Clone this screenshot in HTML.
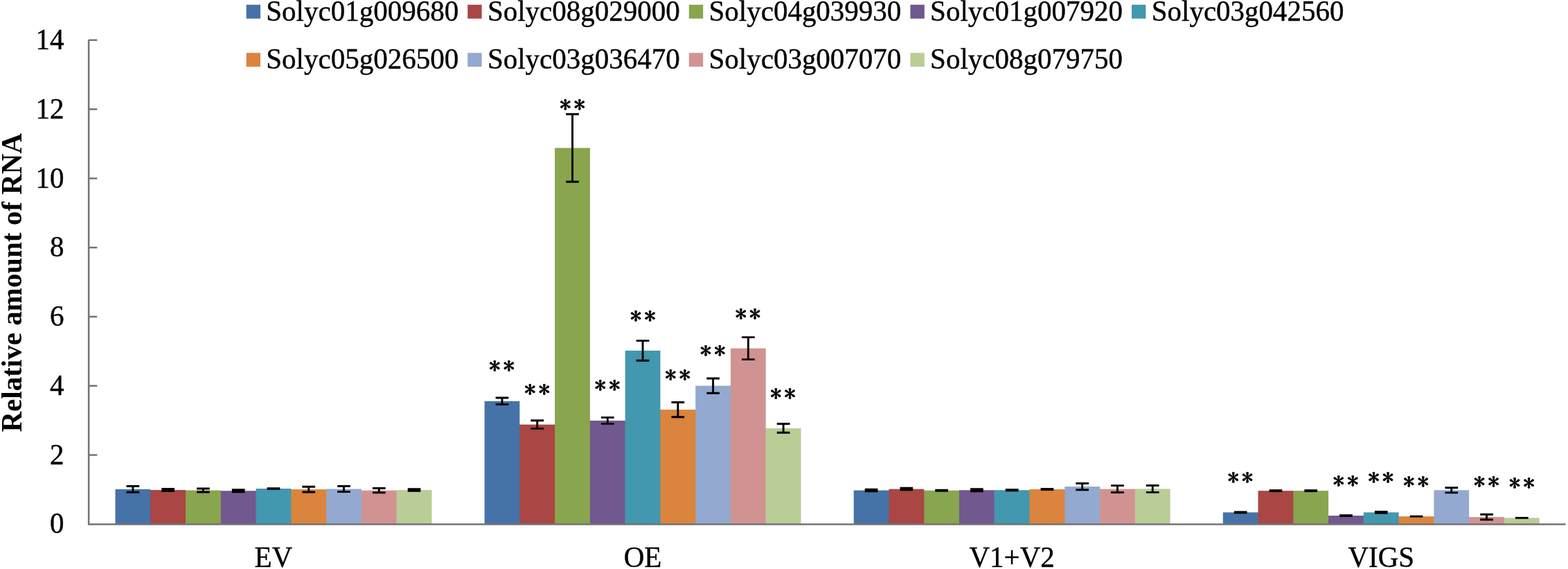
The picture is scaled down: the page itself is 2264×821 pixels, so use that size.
<!DOCTYPE html><html><head><meta charset="utf-8"><title>Relative amount of RNA</title>
<style>html,body{margin:0;padding:0;background:#fff;}svg{display:block;}text{font-family:"Liberation Serif","Times New Roman",serif;fill:#000;}.r{stroke:#000;stroke-width:0.4px;}</style></head><body>
<svg width="2264" height="821" viewBox="0 0 2264 821">
<rect width="2264" height="821" fill="#fff"/>
<rect x="166.48" y="705.90" width="50.77" height="50.40" fill="#4572A7"/>
<rect x="216.75" y="707.00" width="1.3" height="49.30" fill="#4572A7"/>
<rect x="217.25" y="707.00" width="50.77" height="49.30" fill="#AA4643"/>
<rect x="267.52" y="707.50" width="1.3" height="48.80" fill="#AA4643"/>
<rect x="268.02" y="707.50" width="50.77" height="48.80" fill="#89A54E"/>
<rect x="318.29" y="708.20" width="1.3" height="48.10" fill="#89A54E"/>
<rect x="318.79" y="708.20" width="50.77" height="48.10" fill="#71588F"/>
<rect x="369.06" y="708.20" width="1.3" height="48.10" fill="#71588F"/>
<rect x="369.56" y="705.00" width="50.77" height="51.30" fill="#4198AF"/>
<rect x="419.83" y="706.10" width="1.3" height="50.20" fill="#4198AF"/>
<rect x="420.33" y="706.10" width="50.77" height="50.20" fill="#DB843D"/>
<rect x="470.60" y="706.10" width="1.3" height="50.20" fill="#DB843D"/>
<rect x="471.10" y="705.50" width="50.77" height="50.80" fill="#93A9CF"/>
<rect x="521.37" y="707.65" width="1.3" height="48.65" fill="#93A9CF"/>
<rect x="521.87" y="707.65" width="50.77" height="48.65" fill="#D19392"/>
<rect x="572.14" y="707.65" width="1.3" height="48.65" fill="#D19392"/>
<rect x="572.64" y="707.05" width="50.77" height="49.25" fill="#B9CD96"/>
<rect x="699.58" y="578.80" width="50.77" height="177.50" fill="#4572A7"/>
<rect x="749.85" y="612.60" width="1.3" height="143.70" fill="#4572A7"/>
<rect x="750.35" y="612.60" width="50.77" height="143.70" fill="#AA4643"/>
<rect x="800.62" y="612.60" width="1.3" height="143.70" fill="#AA4643"/>
<rect x="801.12" y="213.50" width="50.77" height="542.80" fill="#89A54E"/>
<rect x="851.39" y="606.90" width="1.3" height="149.40" fill="#89A54E"/>
<rect x="851.89" y="606.90" width="50.77" height="149.40" fill="#71588F"/>
<rect x="902.16" y="606.90" width="1.3" height="149.40" fill="#71588F"/>
<rect x="902.66" y="505.90" width="50.77" height="250.40" fill="#4198AF"/>
<rect x="952.93" y="591.10" width="1.3" height="165.20" fill="#4198AF"/>
<rect x="953.43" y="591.10" width="50.77" height="165.20" fill="#DB843D"/>
<rect x="1003.70" y="591.10" width="1.3" height="165.20" fill="#DB843D"/>
<rect x="1004.20" y="556.60" width="50.77" height="199.70" fill="#93A9CF"/>
<rect x="1054.47" y="556.60" width="1.3" height="199.70" fill="#93A9CF"/>
<rect x="1054.97" y="502.60" width="50.77" height="253.70" fill="#D19392"/>
<rect x="1105.24" y="617.90" width="1.3" height="138.40" fill="#D19392"/>
<rect x="1105.74" y="617.90" width="50.77" height="138.40" fill="#B9CD96"/>
<rect x="1232.68" y="707.50" width="50.77" height="48.80" fill="#4572A7"/>
<rect x="1282.95" y="707.50" width="1.3" height="48.80" fill="#4572A7"/>
<rect x="1283.45" y="705.60" width="50.77" height="50.70" fill="#AA4643"/>
<rect x="1333.72" y="707.70" width="1.3" height="48.60" fill="#AA4643"/>
<rect x="1334.22" y="707.70" width="50.77" height="48.60" fill="#89A54E"/>
<rect x="1384.49" y="707.70" width="1.3" height="48.60" fill="#89A54E"/>
<rect x="1384.99" y="707.20" width="50.77" height="49.10" fill="#71588F"/>
<rect x="1435.26" y="707.20" width="1.3" height="49.10" fill="#71588F"/>
<rect x="1435.76" y="707.20" width="50.77" height="49.10" fill="#4198AF"/>
<rect x="1486.03" y="707.20" width="1.3" height="49.10" fill="#4198AF"/>
<rect x="1486.53" y="706.00" width="50.77" height="50.30" fill="#DB843D"/>
<rect x="1536.80" y="706.00" width="1.3" height="50.30" fill="#DB843D"/>
<rect x="1537.30" y="702.10" width="50.77" height="54.20" fill="#93A9CF"/>
<rect x="1587.57" y="705.60" width="1.3" height="50.70" fill="#93A9CF"/>
<rect x="1588.07" y="705.60" width="50.77" height="50.70" fill="#D19392"/>
<rect x="1638.34" y="705.60" width="1.3" height="50.70" fill="#D19392"/>
<rect x="1638.84" y="705.40" width="50.77" height="50.90" fill="#B9CD96"/>
<rect x="1765.78" y="739.30" width="50.77" height="17.00" fill="#4572A7"/>
<rect x="1816.05" y="739.30" width="1.3" height="17.00" fill="#4572A7"/>
<rect x="1816.55" y="708.10" width="50.77" height="48.20" fill="#AA4643"/>
<rect x="1866.82" y="708.10" width="1.3" height="48.20" fill="#AA4643"/>
<rect x="1867.32" y="708.10" width="50.77" height="48.20" fill="#89A54E"/>
<rect x="1917.59" y="744.00" width="1.3" height="12.30" fill="#89A54E"/>
<rect x="1918.09" y="744.00" width="50.77" height="12.30" fill="#71588F"/>
<rect x="1968.36" y="744.00" width="1.3" height="12.30" fill="#71588F"/>
<rect x="1968.86" y="739.30" width="50.77" height="17.00" fill="#4198AF"/>
<rect x="2019.13" y="745.10" width="1.3" height="11.20" fill="#4198AF"/>
<rect x="2019.63" y="745.10" width="50.77" height="11.20" fill="#DB843D"/>
<rect x="2069.90" y="745.10" width="1.3" height="11.20" fill="#DB843D"/>
<rect x="2070.40" y="707.30" width="50.77" height="49.00" fill="#93A9CF"/>
<rect x="2120.67" y="746.00" width="1.3" height="10.30" fill="#93A9CF"/>
<rect x="2121.17" y="746.00" width="50.77" height="10.30" fill="#D19392"/>
<rect x="2171.44" y="747.30" width="1.3" height="9.00" fill="#D19392"/>
<rect x="2171.94" y="747.30" width="50.77" height="9.00" fill="#B9CD96"/>
<path d="M191.87 701.50V710.30M182.52 701.50H201.22M182.52 710.30H201.22" stroke="#000" stroke-width="2.9" fill="none"/>
<path d="M242.64 705.50V708.50M233.29 705.50H251.99M233.29 708.50H251.99" stroke="#000" stroke-width="2.9" fill="none"/>
<path d="M293.41 705.00V710.00M284.06 705.00H302.76M284.06 710.00H302.76" stroke="#000" stroke-width="2.9" fill="none"/>
<path d="M344.18 706.70V709.70M334.83 706.70H353.53M334.83 709.70H353.53" stroke="#000" stroke-width="2.9" fill="none"/>
<rect x="385.60" y="703.25" width="18.70" height="3.50" fill="#000"/>
<path d="M445.72 702.25V709.95M436.37 702.25H455.07M436.37 709.95H455.07" stroke="#000" stroke-width="2.9" fill="none"/>
<path d="M496.49 701.45V709.55M487.13 701.45H505.84M487.13 709.55H505.84" stroke="#000" stroke-width="2.9" fill="none"/>
<path d="M547.26 704.55V710.75M537.91 704.55H556.61M537.91 710.75H556.61" stroke="#000" stroke-width="2.9" fill="none"/>
<path d="M598.03 705.75V708.35M588.68 705.75H607.38M588.68 708.35H607.38" stroke="#000" stroke-width="2.9" fill="none"/>
<path d="M724.97 574.05V583.55M715.62 574.05H734.32M715.62 583.55H734.32" stroke="#000" stroke-width="2.9" fill="none"/>
<path d="M775.74 606.80V618.40M766.38 606.80H785.09M766.38 618.40H785.09" stroke="#000" stroke-width="2.9" fill="none"/>
<path d="M826.51 164.80V262.20M817.16 164.80H835.86M817.16 262.20H835.86" stroke="#000" stroke-width="2.9" fill="none"/>
<path d="M877.28 602.40V611.40M867.93 602.40H886.63M867.93 611.40H886.63" stroke="#000" stroke-width="2.9" fill="none"/>
<path d="M928.05 491.60V520.20M918.70 491.60H937.40M918.70 520.20H937.40" stroke="#000" stroke-width="2.9" fill="none"/>
<path d="M978.82 580.50V601.70M969.47 580.50H988.17M969.47 601.70H988.17" stroke="#000" stroke-width="2.9" fill="none"/>
<path d="M1029.59 546.00V567.20M1020.24 546.00H1038.93M1020.24 567.20H1038.93" stroke="#000" stroke-width="2.9" fill="none"/>
<path d="M1080.36 486.60V518.60M1071.01 486.60H1089.70M1071.01 518.60H1089.70" stroke="#000" stroke-width="2.9" fill="none"/>
<path d="M1131.12 611.50V624.30M1121.78 611.50H1140.47M1121.78 624.30H1140.47" stroke="#000" stroke-width="2.9" fill="none"/>
<path d="M1258.07 706.20V708.80M1248.72 706.20H1267.41M1248.72 708.80H1267.41" stroke="#000" stroke-width="2.9" fill="none"/>
<path d="M1308.84 704.30V706.90M1299.49 704.30H1318.18M1299.49 706.90H1318.18" stroke="#000" stroke-width="2.9" fill="none"/>
<rect x="1350.26" y="705.75" width="18.70" height="3.90" fill="#000"/>
<path d="M1410.38 705.70V708.70M1401.03 705.70H1419.72M1401.03 708.70H1419.72" stroke="#000" stroke-width="2.9" fill="none"/>
<rect x="1451.80" y="705.15" width="18.70" height="4.10" fill="#000"/>
<rect x="1502.57" y="704.05" width="18.70" height="3.90" fill="#000"/>
<path d="M1562.68 697.50V706.70M1553.34 697.50H1572.03M1553.34 706.70H1572.03" stroke="#000" stroke-width="2.9" fill="none"/>
<path d="M1613.46 700.65V710.55M1604.11 700.65H1622.81M1604.11 710.55H1622.81" stroke="#000" stroke-width="2.9" fill="none"/>
<path d="M1664.23 700.45V710.35M1654.88 700.45H1673.58M1654.88 710.35H1673.58" stroke="#000" stroke-width="2.9" fill="none"/>
<rect x="1781.82" y="737.35" width="18.70" height="3.90" fill="#000"/>
<rect x="1832.59" y="706.15" width="18.70" height="3.90" fill="#000"/>
<rect x="1883.36" y="706.15" width="18.70" height="3.90" fill="#000"/>
<rect x="1934.13" y="742.15" width="18.70" height="3.70" fill="#000"/>
<rect x="1984.90" y="736.95" width="18.70" height="4.70" fill="#000"/>
<rect x="2035.67" y="743.65" width="18.70" height="2.90" fill="#000"/>
<path d="M2095.79 703.70V710.90M2086.44 703.70H2105.14M2086.44 710.90H2105.14" stroke="#000" stroke-width="2.9" fill="none"/>
<path d="M2146.56 742.20V749.80M2137.21 742.20H2155.91M2137.21 749.80H2155.91" stroke="#000" stroke-width="2.9" fill="none"/>
<rect x="2187.98" y="745.85" width="18.70" height="2.90" fill="#000"/>
<path d="M128.10 57.60V756.40H2260.5" stroke="#737373" stroke-width="2.5" fill="none"/>
<path d="M128.10 656.52H140.3" stroke="#737373" stroke-width="2.5" fill="none"/>
<path d="M128.10 556.74H140.3" stroke="#737373" stroke-width="2.5" fill="none"/>
<path d="M128.10 456.96H140.3" stroke="#737373" stroke-width="2.5" fill="none"/>
<path d="M128.10 357.18H140.3" stroke="#737373" stroke-width="2.5" fill="none"/>
<path d="M128.10 257.40H140.3" stroke="#737373" stroke-width="2.5" fill="none"/>
<path d="M128.10 157.62H140.3" stroke="#737373" stroke-width="2.5" fill="none"/>
<path d="M128.10 57.84H140.3" stroke="#737373" stroke-width="2.5" fill="none"/>
<text transform="translate(92.5 769.40) scale(1 1.015)" class="r" font-size="41" text-anchor="end">0</text>
<text transform="translate(92.5 669.62) scale(1 1.015)" class="r" font-size="41" text-anchor="end">2</text>
<text transform="translate(92.5 569.84) scale(1 1.015)" class="r" font-size="41" text-anchor="end">4</text>
<text transform="translate(92.5 470.06) scale(1 1.015)" class="r" font-size="41" text-anchor="end">6</text>
<text transform="translate(92.5 370.28) scale(1 1.015)" class="r" font-size="41" text-anchor="end">8</text>
<text transform="translate(92.5 270.50) scale(1 1.015)" class="r" font-size="41" text-anchor="end">10</text>
<text transform="translate(92.5 170.72) scale(1 1.015)" class="r" font-size="41" text-anchor="end">12</text>
<text transform="translate(92.5 70.94) scale(1 1.015)" class="r" font-size="41" text-anchor="end">14</text>
<text transform="translate(394.95 817.5) scale(1 1.015)" class="r" font-size="41" text-anchor="middle">EV</text>
<text transform="translate(928.05 817.5) scale(1 1.015)" class="r" font-size="41" text-anchor="middle">OE</text>
<text transform="translate(1461.15 817.5) scale(1 1.015)" class="r" font-size="41" text-anchor="middle">V1+V2</text>
<text transform="translate(1994.25 817.5) scale(1 1.015)" class="r" font-size="41" text-anchor="middle">VIGS</text>
<text transform="translate(31.2 407.8) rotate(-90) scale(1 1.05)" font-size="41" font-weight="bold" text-anchor="middle">Relative amount of RNA</text>
<rect x="355.60" y="6.8" width="20.4" height="20" fill="#4572A7"/>
<text transform="translate(384.30 30.0) scale(1 1.035)" class="r" font-size="41">Solyc01g009680</text>
<rect x="675.20" y="6.8" width="20.4" height="20" fill="#AA4643"/>
<text transform="translate(703.90 30.0) scale(1 1.035)" class="r" font-size="41">Solyc08g029000</text>
<rect x="994.80" y="6.8" width="20.4" height="20" fill="#89A54E"/>
<text transform="translate(1023.50 30.0) scale(1 1.035)" class="r" font-size="41">Solyc04g039930</text>
<rect x="1314.40" y="6.8" width="20.4" height="20" fill="#71588F"/>
<text transform="translate(1343.10 30.0) scale(1 1.035)" class="r" font-size="41">Solyc01g007920</text>
<rect x="1634.00" y="6.8" width="20.4" height="20" fill="#4198AF"/>
<text transform="translate(1662.70 30.0) scale(1 1.035)" class="r" font-size="41">Solyc03g042560</text>
<rect x="355.60" y="76.3" width="20.4" height="20" fill="#DB843D"/>
<text transform="translate(384.30 99.4) scale(1 1.035)" class="r" font-size="41">Solyc05g026500</text>
<rect x="675.20" y="76.3" width="20.4" height="20" fill="#93A9CF"/>
<text transform="translate(703.90 99.4) scale(1 1.035)" class="r" font-size="41">Solyc03g036470</text>
<rect x="994.80" y="76.3" width="20.4" height="20" fill="#D19392"/>
<text transform="translate(1023.50 99.4) scale(1 1.035)" class="r" font-size="41">Solyc03g007070</text>
<rect x="1314.40" y="76.3" width="20.4" height="20" fill="#B9CD96"/>
<text transform="translate(1343.10 99.4) scale(1 1.035)" class="r" font-size="41">Solyc08g079750</text>
<text transform="translate(724.60 538.60) scale(1.07 1.0)" font-size="31.0" font-weight="normal" style="font-family:IPAGothic, 'Liberation Serif', serif" text-anchor="middle" stroke="#000" stroke-width="0.7">*<tspan dx="3.6">*</tspan></text>
<text transform="translate(775.55 572.80) scale(1.07 1.0)" font-size="31.0" font-weight="normal" style="font-family:IPAGothic, 'Liberation Serif', serif" text-anchor="middle" stroke="#000" stroke-width="0.7">*<tspan dx="3.6">*</tspan></text>
<text transform="translate(826.55 161.90) scale(1.07 1.0)" font-size="31.0" font-weight="normal" style="font-family:IPAGothic, 'Liberation Serif', serif" text-anchor="middle" stroke="#000" stroke-width="0.7">*<tspan dx="3.6">*</tspan></text>
<text transform="translate(877.05 567.30) scale(1.07 1.0)" font-size="31.0" font-weight="normal" style="font-family:IPAGothic, 'Liberation Serif', serif" text-anchor="middle" stroke="#000" stroke-width="0.7">*<tspan dx="3.6">*</tspan></text>
<text transform="translate(928.25 467.40) scale(1.07 1.0)" font-size="31.0" font-weight="normal" style="font-family:IPAGothic, 'Liberation Serif', serif" text-anchor="middle" stroke="#000" stroke-width="0.7">*<tspan dx="3.6">*</tspan></text>
<text transform="translate(978.50 551.80) scale(1.07 1.0)" font-size="31.0" font-weight="normal" style="font-family:IPAGothic, 'Liberation Serif', serif" text-anchor="middle" stroke="#000" stroke-width="0.7">*<tspan dx="3.6">*</tspan></text>
<text transform="translate(1029.20 517.20) scale(1.07 1.0)" font-size="31.0" font-weight="normal" style="font-family:IPAGothic, 'Liberation Serif', serif" text-anchor="middle" stroke="#000" stroke-width="0.7">*<tspan dx="3.6">*</tspan></text>
<text transform="translate(1079.90 463.50) scale(1.07 1.0)" font-size="31.0" font-weight="normal" style="font-family:IPAGothic, 'Liberation Serif', serif" text-anchor="middle" stroke="#000" stroke-width="0.7">*<tspan dx="3.6">*</tspan></text>
<text transform="translate(1130.45 579.10) scale(1.07 1.0)" font-size="31.0" font-weight="normal" style="font-family:IPAGothic, 'Liberation Serif', serif" text-anchor="middle" stroke="#000" stroke-width="0.7">*<tspan dx="3.6">*</tspan></text>
<text transform="translate(1790.90 699.80) scale(1.07 1.0)" font-size="31.0" font-weight="normal" style="font-family:IPAGothic, 'Liberation Serif', serif" text-anchor="middle" stroke="#000" stroke-width="0.7">*<tspan dx="3.6">*</tspan></text>
<text transform="translate(1943.10 704.50) scale(1.07 1.0)" font-size="31.0" font-weight="normal" style="font-family:IPAGothic, 'Liberation Serif', serif" text-anchor="middle" stroke="#000" stroke-width="0.7">*<tspan dx="3.6">*</tspan></text>
<text transform="translate(1993.80 699.90) scale(1.07 1.0)" font-size="31.0" font-weight="normal" style="font-family:IPAGothic, 'Liberation Serif', serif" text-anchor="middle" stroke="#000" stroke-width="0.7">*<tspan dx="3.6">*</tspan></text>
<text transform="translate(2044.60 705.90) scale(1.07 1.0)" font-size="31.0" font-weight="normal" style="font-family:IPAGothic, 'Liberation Serif', serif" text-anchor="middle" stroke="#000" stroke-width="0.7">*<tspan dx="3.6">*</tspan></text>
<text transform="translate(2146.25 706.10) scale(1.07 1.0)" font-size="31.0" font-weight="normal" style="font-family:IPAGothic, 'Liberation Serif', serif" text-anchor="middle" stroke="#000" stroke-width="0.7">*<tspan dx="3.6">*</tspan></text>
<text transform="translate(2197.30 707.90) scale(1.07 1.0)" font-size="31.0" font-weight="normal" style="font-family:IPAGothic, 'Liberation Serif', serif" text-anchor="middle" stroke="#000" stroke-width="0.7">*<tspan dx="3.6">*</tspan></text>
</svg></body></html>
